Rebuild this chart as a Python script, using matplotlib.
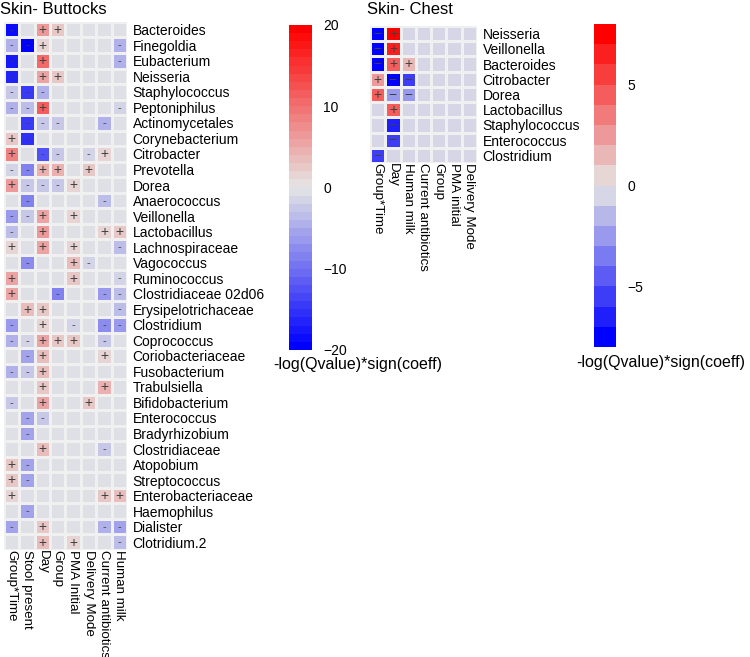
import numpy as np
import matplotlib.pyplot as plt
from matplotlib.colors import LinearSegmentedColormap, ListedColormap, BoundaryNorm
import matplotlib.cm as cm

plt.rcParams['font.family'] = ['Liberation Sans', 'DejaVu Sans']

# ---- Skin - Buttocks ----
buttocks_taxa = ["Bacteroides", "Finegoldia", "Eubacterium", "Neisseria", "Staphylococcus",
                 "Peptoniphilus", "Actinomycetales", "Corynebacterium", "Citrobacter", "Prevotella",
                 "Dorea", "Anaerococcus", "Veillonella", "Lactobacillus", "Lachnospiraceae",
                 "Vagococcus", "Ruminococcus", "Clostridiaceae 02d06", "Erysipelotrichaceae",
                 "Clostridium", "Coprococcus", "Coriobacteriaceae", "Fusobacterium", "Trabulsiella",
                 "Bifidobacterium", "Enterococcus", "Bradyrhizobium", "Clostridiaceae", "Atopobium",
                 "Streptococcus", "Enterobacteriaceae", "Haemophilus", "Dialister", "Clotridium.2"]
buttocks_vars = ["Group*Time", "Stool present", "Day", "Group", "PMA Initial",
                 "Delivery Mode", "Current antibiotics", "Human milk"]
buttocks_vals = [
    [-18, 0, 7, 3, 0, 0, 0, 0],
    [-4, -20, 2, 0, 0, 0, 0, -4],
    [-17, 0, 11, 0, 0, 0, 0, -4],
    [-16, 0, 6, 3, 0, 0, 0, 0],
    [-2, -14, -4, 0, 0, 0, 0, 0],
    [-4, -3, 12, 0, 0, 0, 0, -1],
    [0, -14, -2, -2, 0, 0, -4, 0],
    [3, -15, 0, 0, 0, 0, 0, 0],
    [9, 0, -12, -2, 0, -1, 2, 0],
    [-1, -8, 5, 5, 0, 3, 0, 0],
    [7, -2, -2, -2, 2, 0, 0, 0],
    [0, -8, 0, 0, 0, 0, -3, 0],
    [-6, -2, 6, 0, 2, 0, 0, 0],
    [-3, 0, 7, 0, 0, 0, 2, 3],
    [2, 0, 6, 0, 2, 0, 0, -3],
    [0, -7, 0, 0, 4, -1, 0, 0],
    [6, 0, 0, 0, 3, 0, 0, -1],
    [6, 0, 0, -8, 0, 0, -6, -3],
    [0, 4, 3, 0, 0, 0, 0, -3],
    [-6, 0, 2, 0, -1, 0, -7, -6],
    [-4, -1, 6, 3, 3, 0, -2, 0],
    [0, -5, 4, 0, 0, 0, 2, 0],
    [-4, -2, 4, 0, 0, 0, 0, 0],
    [0, 0, 3, 0, 0, 0, 5, 0],
    [-2, 0, 6, 0, 0, 3, 0, 0],
    [0, -5, -2, 0, 0, 0, 0, 0],
    [0, -5, 0, 0, 0, 0, 0, 0],
    [0, 0, 4, 0, 0, 0, -2, 0],
    [3, -5, 0, 0, 0, 0, 0, 0],
    [3, -5, 0, 0, 0, 0, 0, 0],
    [2, 0, 0, 0, 0, 0, 3, 4],
    [0, -5, 0, 0, 0, 0, 0, 0],
    [-5, 0, 3, 0, 0, 0, -4, -5],
    [0, 0, 4, 0, 2, 0, 0, -3],
]

# ---- Skin - Chest ----
chest_taxa = ["Neisseria", "Veillonella", "Bacteroides", "Citrobacter", "Dorea",
              "Lactobacillus", "Staphylococcus", "Enterococcus", "Clostridium"]
chest_vars = ["Group*Time", "Day", "Human milk", "Current antibiotics", "Group",
              "PMA initial", "Delivery Mode"]
chest_vals = [
    [-7, 8, 0, 0, 0, 0, 0],
    [-7, 7, 0, 0, 0, 0, 0],
    [-8, 5, 2, 0, 0, 0, 0],
    [3, -7, -5, 0, 0, 0, 0],
    [5, -2, -2, 0, 0, 0, 0],
    [0, 5, 0, 0, 0, 0, 0],
    [0, -6, 0, 0, 0, 0, 0],
    [0, -5, 0, 0, 0, 0, 0],
    [-5, 0, 0, 0, 0, 0, 0],
]


def make_cmap(lim):
    n = 2 * lim
    base = LinearSegmentedColormap.from_list("bgr", ["#0000ff", "#e5e5e5", "#ff0000"])
    cols = base(np.linspace(0, 1, n))
    # shift bounds a hair so that 0 falls into the lower bin, as in R's cut()
    bounds = np.arange(-lim, lim + 1) + 1e-6
    return ListedColormap(cols), BoundaryNorm(bounds, n, clip=True)


def draw_heat(ax, vals, rows, cols, lim, minus):
    data = np.array(vals, dtype=float)
    cmap, norm = make_cmap(lim)
    ax.pcolormesh(data, cmap=cmap, norm=norm, edgecolors="#f0f0f0", linewidth=1.0)
    ax.set_xlim(0, len(cols))
    ax.set_ylim(len(rows), 0)
    for i in range(data.shape[0]):
        for j in range(data.shape[1]):
            v = data[i, j]
            if v > 0:
                ax.text(j + 0.5, i + 0.52, "+", ha="center", va="center",
                        fontsize=10, color="#404040")
            elif v < 0:
                ax.text(j + 0.5, i + 0.52, minus, ha="center", va="center",
                        fontsize=8 if minus == "-" else 10, color="#404040")
    ax.set_yticks(np.arange(len(rows)) + 0.5)
    ax.set_yticklabels(rows, fontsize=10)
    ax.yaxis.tick_right()
    ax.tick_params(axis="y", length=0, pad=4)
    ax.set_xticks(np.arange(len(cols)) + 0.5)
    ax.set_xticklabels(cols, rotation=270, fontsize=9.6, ha="center", va="top")
    ax.tick_params(axis="x", length=0, pad=0)
    for s in ax.spines.values():
        s.set_visible(False)
    return cmap, norm


def draw_bar(fig, rect, cmap, norm, ticks, lim):
    cax = fig.add_axes(rect)
    sm = cm.ScalarMappable(norm=norm, cmap=cmap)
    cb = fig.colorbar(sm, cax=cax, ticks=ticks)
    cb.outline.set_visible(False)
    cb.minorticks_off()
    cax.set_ylim(-lim, lim)
    cb.set_ticklabels([str(t).replace("-", "\u2212") for t in ticks])
    cax.tick_params(which="both", length=0, pad=8, labelsize=10)


fig = plt.figure(figsize=(7.5, 6.57), dpi=100)

ax1 = fig.add_axes([0.0053, 0.1629, 0.164, 0.8037])
cm1, n1 = draw_heat(ax1, buttocks_vals, buttocks_taxa, buttocks_vars, 20, "-")
fig.text(0.0, 0.985, "Skin- Buttocks", fontsize=12, va="center", ha="left")

ax2 = fig.add_axes([0.4933, 0.7519, 0.1427, 0.2085])
cm2, n2 = draw_heat(ax2, chest_vals, chest_taxa, chest_vars, 8, "\u2212")
fig.text(0.489, 0.985, "Skin- Chest", fontsize=12, va="center", ha="left")

draw_bar(fig, [0.3853, 0.4673, 0.0307, 0.4947], cm1, n1, [-20, -10, 0, 10, 20], 20)
draw_bar(fig, [0.792, 0.4718, 0.0293, 0.4916], cm2, n2, [-5, 0, 5], 8)

fig.text(0.477, 0.445, "-log(Qvalue)*sign(coeff)", fontsize=11.5, ha="center", va="center")
fig.text(0.881, 0.448, "-log(Qvalue)*sign(coeff)", fontsize=11.5, ha="center", va="center")

plt.savefig("out.png", dpi=100)
